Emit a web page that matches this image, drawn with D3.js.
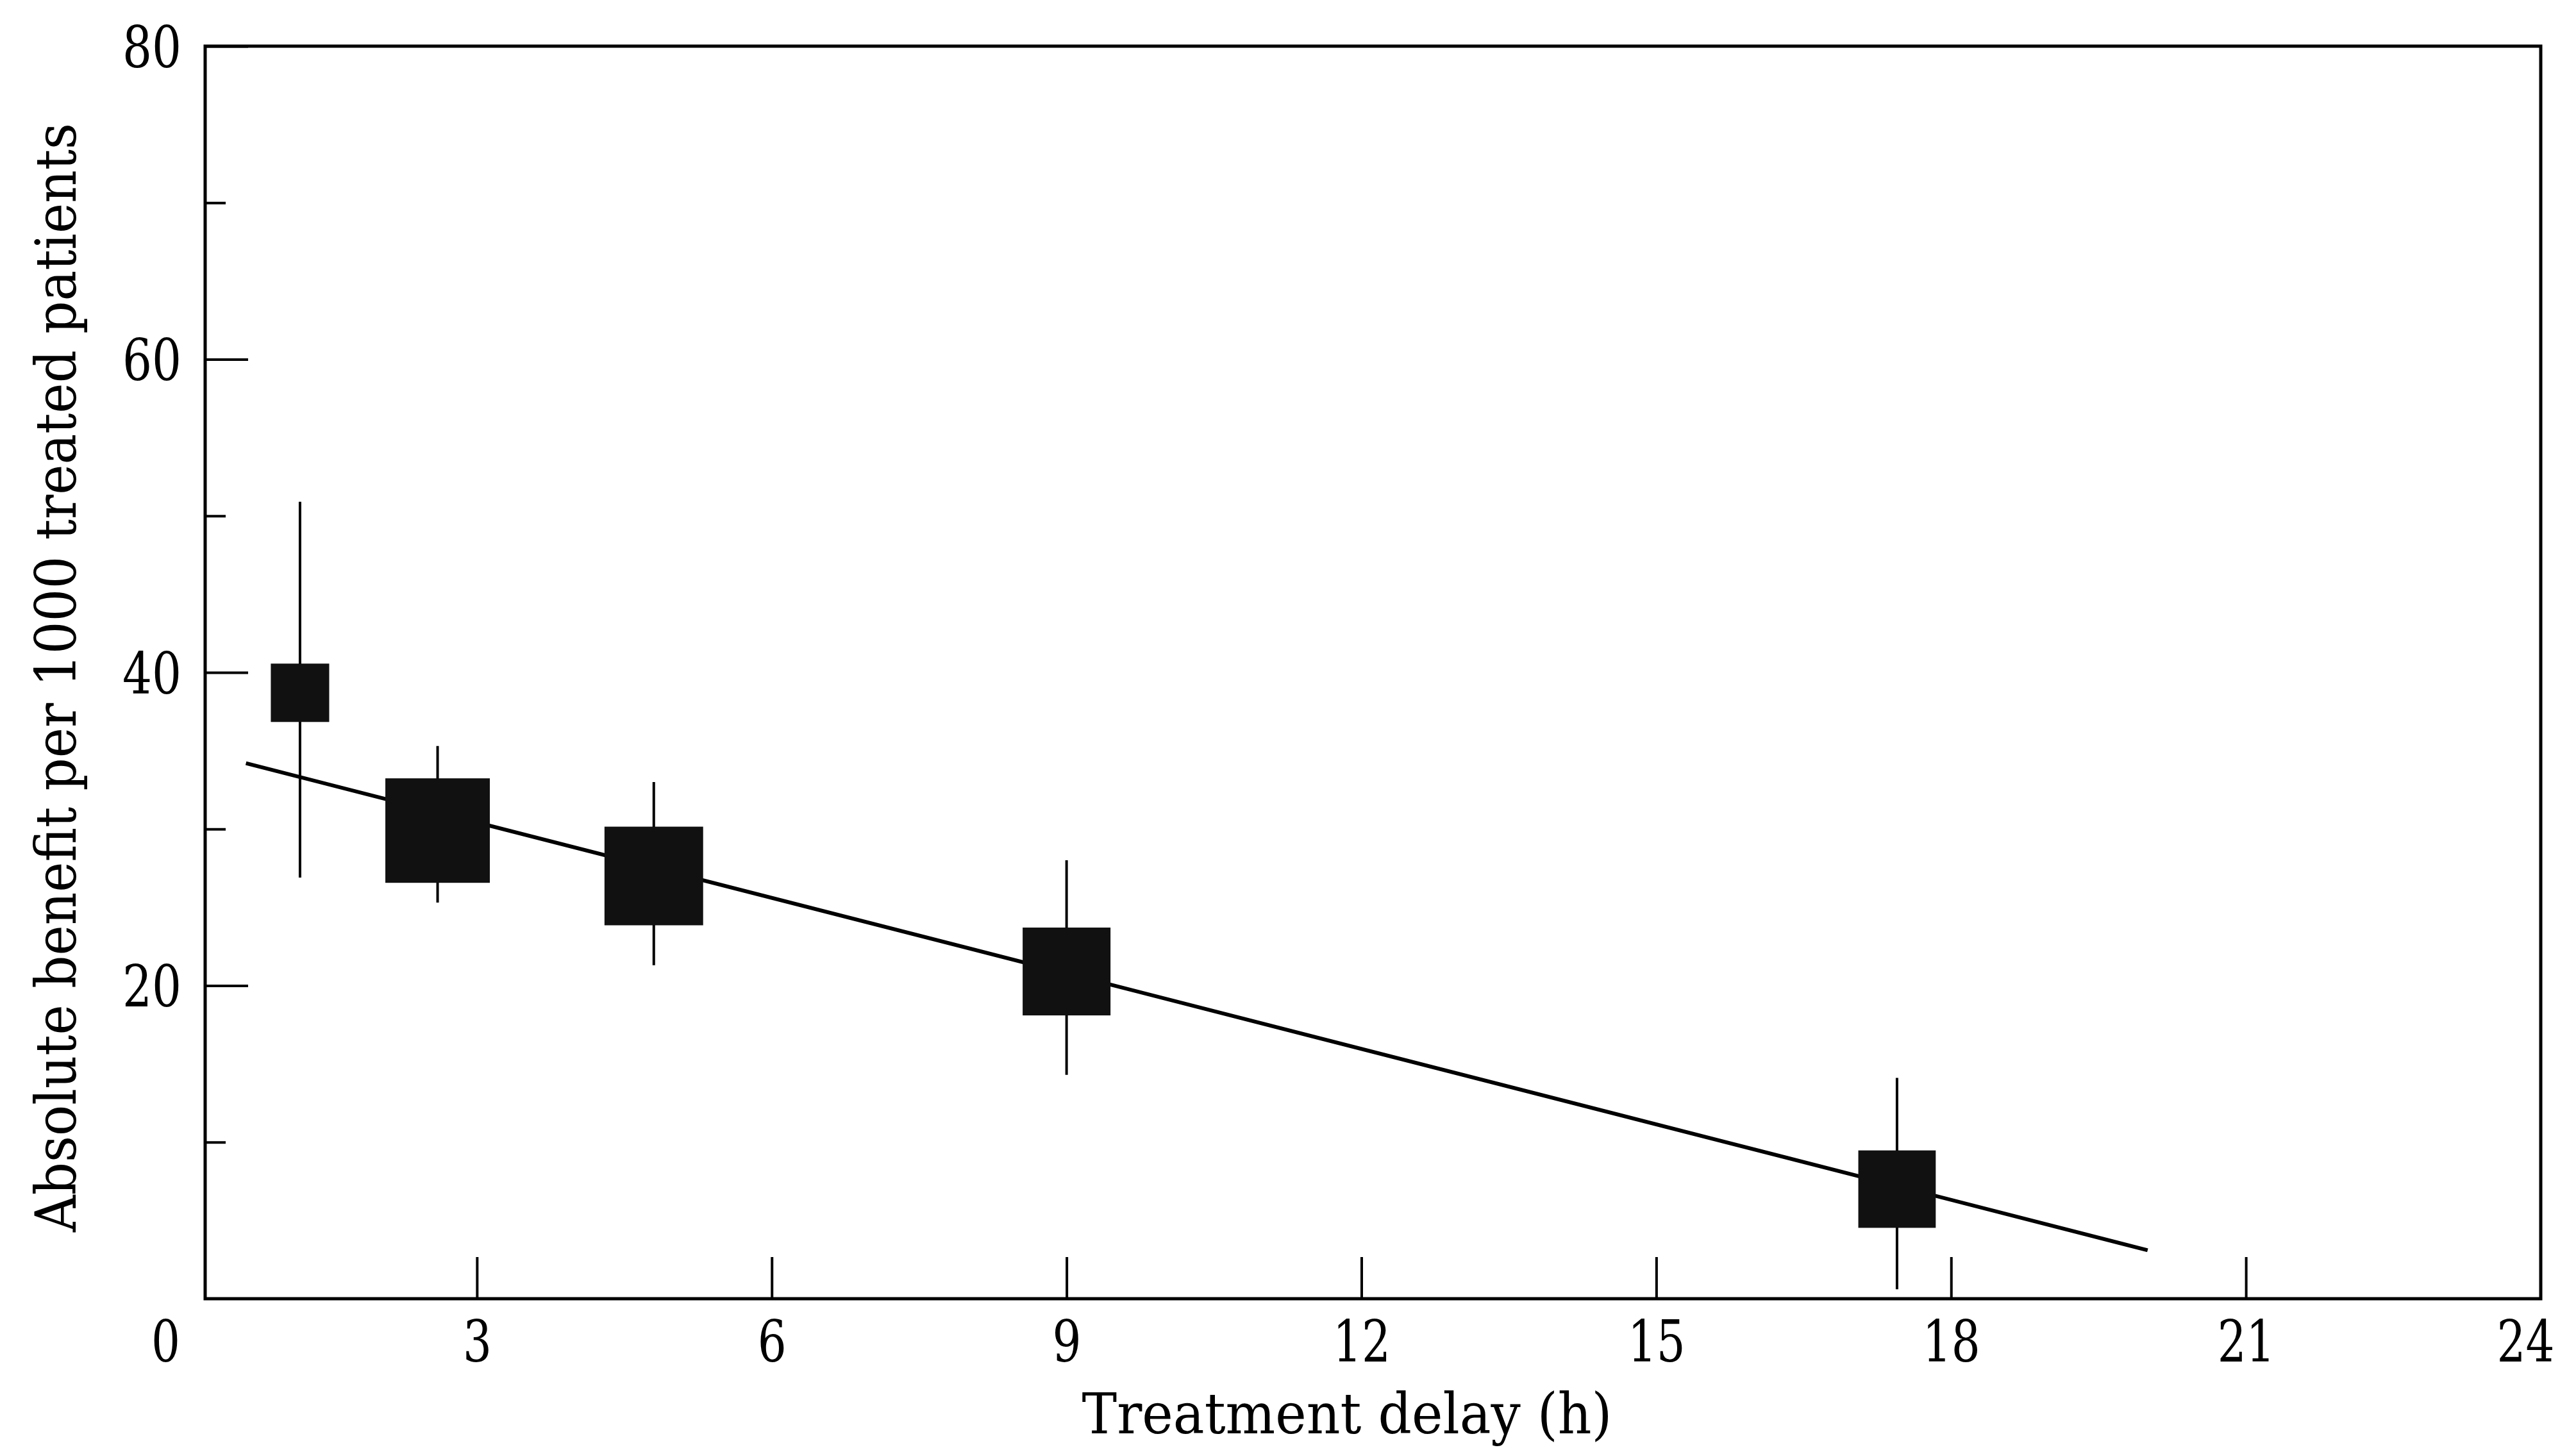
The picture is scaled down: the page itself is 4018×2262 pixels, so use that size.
<!DOCTYPE html>
<html>
<head>
<meta charset="utf-8">
<script src="https://cdn.jsdelivr.net/npm/d3@7"></script>
<style>
  html, body { margin: 0; padding: 0; background: #fff; }
  svg { display: block; }
  text { font-family: "DejaVu Serif", "Liberation Serif", serif; fill: #000; }
</style>
</head>
<body>
<svg id="chart" width="4018" height="2262"></svg>
<script>
// ---- data ----
const delayHours   = [1.2, 2.6, 4.8, 9.0, 17.45];   // treatment delay (h)
const benefit      = [38.7, 29.9, 27.0, 20.9, 7.0]; // absolute benefit per 1000
const ciLow        = [26.9, 25.3, 21.3, 14.3, 0.6];
const ciHigh       = [50.9, 35.3, 33.0, 28.0, 14.1];
const weights      = [8.3, 26.6, 23.7, 18.8, 14.6]; // relative statistical weight (square area)
const fitDelay     = [0.65, 20];                    // regression line ends (h)
const fitBenefit   = [34.2, 3.1];
const xTickValues  = [0, 3, 6, 9, 12, 15, 18, 21, 24];
const yTickValues  = [20, 40, 60, 80];
const yMinorTicks  = [10, 30, 50, 70];
const xTitle = "Treatment delay (h)";
const yTitle = "Absolute benefit per 1000 treated patients";

// ---- layout ----
const frame = { left: 320, right: 3963, top: 72, bottom: 2026 };
const svg = d3.select("#chart");

const x = d3.scaleLinear().domain([0, 24]).range([284, 3963]);
const y = d3.scaleLinear().domain([0, 80]).range([frame.bottom, frame.top]);
const side = d3.scaleSqrt().domain([0, d3.max(weights)]).range([0, 163]);

const data = delayHours.map((d, i) => ({
  h: d, v: benefit[i], lo: ciLow[i], hi: ciHigh[i], w: weights[i]
}));

// frame
svg.append("rect")
  .attr("x", frame.left).attr("y", frame.top)
  .attr("width", frame.right - frame.left)
  .attr("height", frame.bottom - frame.top)
  .attr("fill", "none").attr("stroke", "#000").attr("stroke-width", 5);

// x axis (inward ticks)
const xAxis = svg.append("g")
  .attr("transform", `translate(0,${frame.bottom})`)
  .call(d3.axisBottom(x).tickValues(xTickValues).tickFormat(d3.format("d"))
        .tickSizeInner(-65).tickSizeOuter(0));
xAxis.select(".domain").remove();
xAxis.selectAll(".tick line")
  .attr("stroke", "#000").attr("stroke-width", 4)
  .attr("display", d => (d === 0 || d === 24) ? "none" : null);
xAxis.selectAll(".tick text")
  .attr("y", 98).attr("dy", 0)
  .attr("font-size", 90)
  .attr("x", d => d === 0 ? -26 : (d === 24 ? -24 : 0))
  .attr("textLength", function() { return this.textContent.length * 45; })
  .attr("lengthAdjust", "spacingAndGlyphs");

// y axis (inward ticks)
const yAxis = svg.append("g")
  .attr("transform", `translate(${frame.left},0)`)
  .call(d3.axisLeft(y).tickValues(yTickValues).tickFormat(d3.format("d"))
        .tickSizeInner(-67).tickSizeOuter(0).tickPadding(37));
yAxis.select(".domain").remove();
yAxis.selectAll(".tick line").attr("stroke", "#000").attr("stroke-width", 4);
yAxis.selectAll(".tick text")
  .attr("font-size", 90).attr("dy", "0.36em")
  .attr("textLength", function() { return this.textContent.length * 46; })
  .attr("lengthAdjust", "spacingAndGlyphs");

const yMinor = svg.append("g")
  .attr("transform", `translate(${frame.left},0)`)
  .call(d3.axisLeft(y).tickValues(yMinorTicks).tickFormat("")
        .tickSizeInner(-32).tickSizeOuter(0));
yMinor.select(".domain").remove();
yMinor.selectAll(".tick line").attr("stroke", "#000").attr("stroke-width", 4);

// regression line
const fitPts = fitDelay.map((d, i) => [d, fitBenefit[i]]);
svg.append("path")
  .datum(fitPts)
  .attr("d", d3.line().x(d => x(d[0])).y(d => y(d[1])))
  .attr("fill", "none").attr("stroke", "#000").attr("stroke-width", 6);

// confidence intervals
svg.append("g").selectAll("line")
  .data(data).join("line")
  .attr("x1", d => x(d.h)).attr("x2", d => x(d.h))
  .attr("y1", d => y(d.lo)).attr("y2", d => y(d.hi))
  .attr("stroke", "#000").attr("stroke-width", 4);

// squares
svg.append("g").selectAll("rect")
  .data(data).join("rect")
  .attr("x", d => x(d.h) - side(d.w) / 2)
  .attr("y", d => y(d.v) - side(d.w) / 2)
  .attr("width", d => side(d.w))
  .attr("height", d => side(d.w))
  .attr("fill", "#111");

// titles
svg.append("text")
  .attr("x", 2101).attr("y", 2236)
  .attr("text-anchor", "middle")
  .attr("font-size", 88)
  .attr("textLength", 827).attr("lengthAdjust", "spacingAndGlyphs")
  .text(xTitle);

svg.append("text")
  .attr("transform", `translate(118,1057) rotate(-90)`)
  .attr("text-anchor", "middle")
  .attr("font-size", 88)
  .attr("textLength", 1730).attr("lengthAdjust", "spacingAndGlyphs")
  .text(yTitle);
</script>
</body>
</html>
